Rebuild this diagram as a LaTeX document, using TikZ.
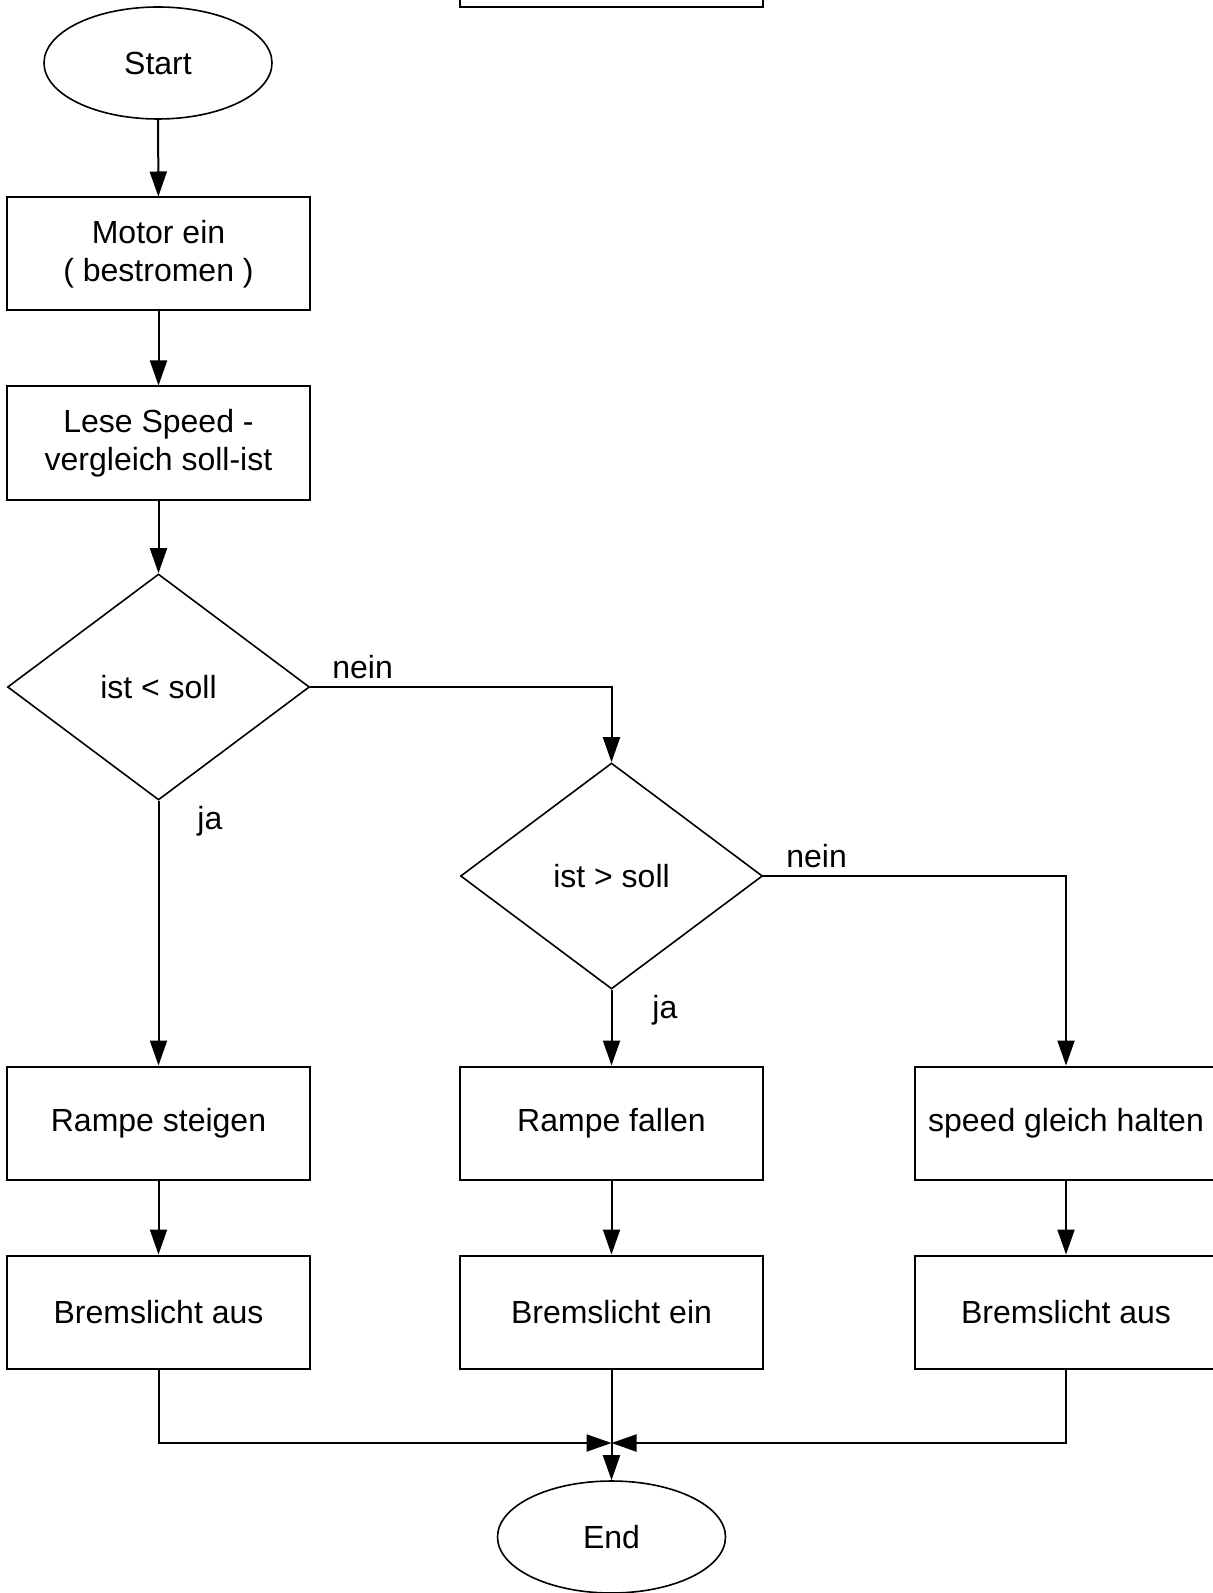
\documentclass[tikz,border=0pt]{standalone}
\usepackage{fontspec}
\setmainfont{Liberation Sans}
\usetikzlibrary{shapes.geometric}
\usetikzlibrary{arrows.meta}

\tikzset{
  box/.style={draw, rectangle, line width=1pt, minimum width=151.5pt, minimum height=56.5pt, align=center, inner sep=0pt},
  decision/.style={draw, diamond, line width=0.8pt, minimum width=151pt, minimum height=113pt, inner sep=0pt},
  terminal/.style={draw, ellipse, line width=0.8pt, minimum width=114pt, minimum height=56pt, inner sep=0pt},
  flow/.style={line width=1pt, -{Triangle[length=12.5pt,width=8.5pt]}},
  answer/.style={inner sep=0pt, anchor=base west}
}

\begin{document}
\begin{tikzpicture}[x=0.5pt, y=-0.5pt]
    \fontsize{16}{19}\selectfont
    % Page frame
    \useasboundingbox (0,0) rectangle (1213,1593);

    % Nodes of the main column
    \node[box] (top) at (611.5,-49.5) {};
    \node[terminal] (start) at (158,63) {Start};
    \node[box] (motor) at (158.5,254) {Motor ein\\( bestromen )};
    \node[box] (lese) at (158.5,443) {Lese Speed -\\vergleich soll-ist};
    \node[decision] (kleiner) at (158.5,687) {ist < soll};
    \node[decision] (groesser) at (611.5,876) {ist > soll};

    % Actions
    \node[box] (steigen) at (158.5,1123) {Rampe steigen};
    \node[box] (fallen) at (611.5,1123) {Rampe fallen};
    \node[box] (halten) at (1066,1123) {speed gleich halten};
    \node[box] (lichtA) at (158.5,1312) {Bremslicht aus};
    \node[box] (lichtB) at (611.5,1312) {Bremslicht ein};
    \node[box] (lichtC) at (1066,1312) {Bremslicht aus};

    % End
    \coordinate (mrg) at (611.5,1443);
    \node[terminal] (ende) at (611.5,1537) {End};

    % Connectors
    \draw[flow] (start) -- (motor);
    \draw[flow] (motor) -- (lese);
    \draw[flow] (lese) -- (kleiner);
    \draw[flow] (kleiner.east) -| (groesser.north);
    \draw[flow] (kleiner.south) -- (steigen.north);
    \draw[flow] (groesser.east) -| (halten.north);
    \draw[flow] (groesser.south) -- (fallen.north);
    \draw[flow] (steigen) -- (lichtA);
    \draw[flow] (fallen) -- (lichtB);
    \draw[flow] (halten) -- (lichtC);
    \draw[flow] (lichtA.south) |- (mrg);
    \draw[flow] (lichtC.south) |- (mrg);
    \draw[flow] (lichtB.south) -- (ende.north);

    % Answer labels
    \node[answer] at (332,678) {nein};
    \node[answer] at (197,829) {ja};
    \node[answer] at (652,1018) {ja};
    \node[answer] at (786,867) {nein};
\end{tikzpicture}
\end{document}
